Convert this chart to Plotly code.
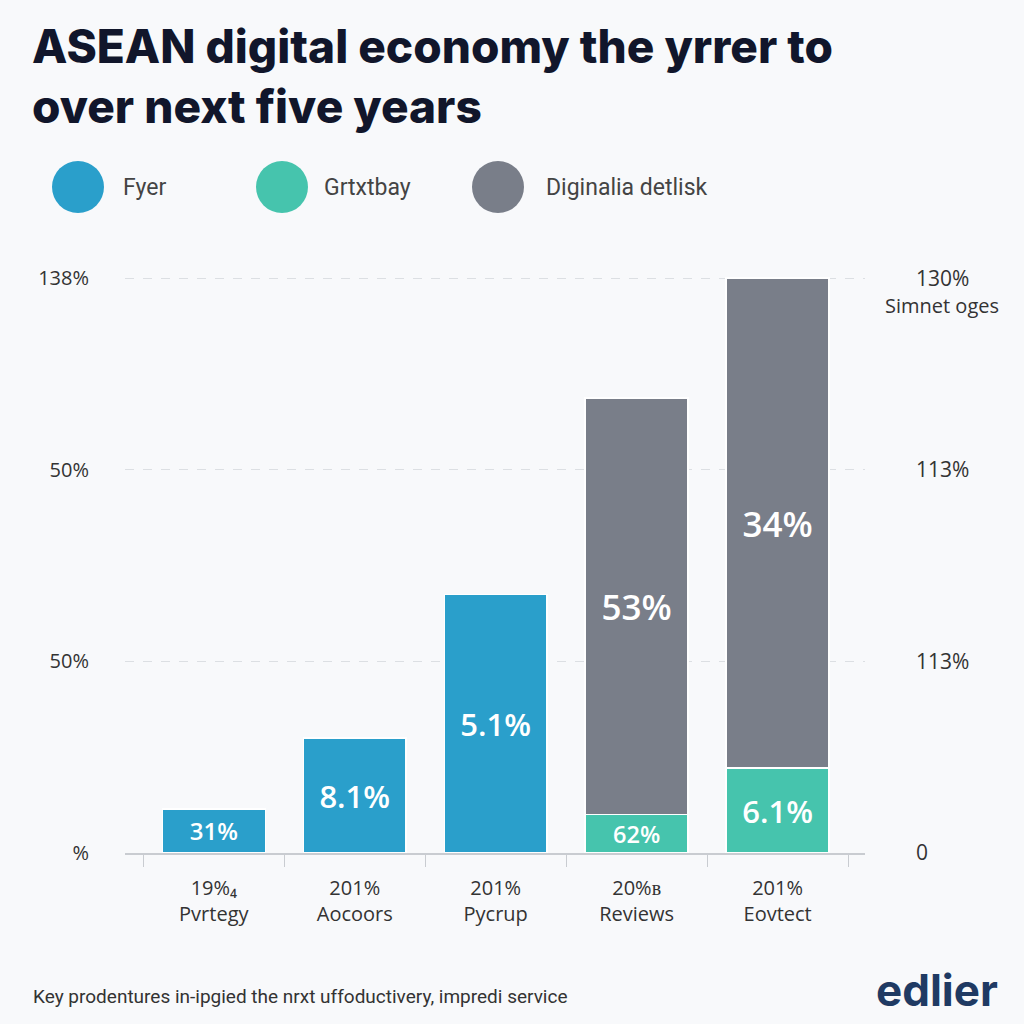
import plotly.graph_objects as go

# ---------------- data ----------------
categories = ["19%\u2084<br>Pvrtegy", "201%<br>Aocoors", "201%<br>Pycrup", "20%\u0299<br>Reviews", "201%<br>Eovtect"]
series_names = ["Fyer", "Grtxtbay", "Diginalia detlisk"]
fyer_values = [10.6, 27.6, 62.0, None, None]
grtxtbay_values = [None, None, None, 9.2, 20.4]
diginalia_values = [None, None, None, 100.0, 117.6]
fyer_labels = ["31%", "8.1%", "5.1%", "", ""]
grtxtbay_labels = ["", "", "", "62%", "6.1%"]
diginalia_labels = ["", "", "", "53%", "34%"]
left_tick_vals = [0, 46, 92, 138]
left_tick_text = ["%", "50%", "50%", "138%"]
right_tick_text = ["0", "113%", "113%", "130%"]

title_text = "ASEAN digital economy the yrrer to<br>over next five years"
right_note = "Simnet oges"
footnote = "Key prodentures in-ipgied the nrxt uffoductivery, impredi service"
logo = "edlier"

# ---------------- style ----------------
BLUE = "#2a9fcb"
GREEN = "#46c4ad"
GRAY = "#797e89"
BG = "#f8f9fb"

X0, X1 = 125, 865   # plot area pixels
Y0, Y1 = 249, 853


def px(x):
    return (x - X0) / (X1 - X0)


def py(y):
    return (Y1 - y) / (Y1 - Y0)


fig = go.Figure()
common = dict(textposition="inside", insidetextanchor="middle", textangle=0,
              marker_line_color="white", marker_line_width=1.5, width=0.73,
              hoverinfo="skip", cliponaxis=False)
fig.add_trace(go.Bar(x=categories, y=fyer_values, name=series_names[0], marker_color=BLUE,
                     text=fyer_labels,
                     textfont=dict(color="white", family="Open Sans", weight=600, size=[24, 31, 31, 24, 24]),
                     **common))
fig.add_trace(go.Bar(x=categories, y=grtxtbay_values, name=series_names[1], marker_color=GREEN,
                     text=grtxtbay_labels,
                     textfont=dict(color="white", family="Open Sans", weight=600, size=[24, 24, 24, 24, 31]),
                     **common))
fig.add_trace(go.Bar(x=categories, y=diginalia_values, name=series_names[2], marker_color=GRAY,
                     text=diginalia_labels,
                     textfont=dict(color="white", family="Open Sans", weight=600, size=[35, 35, 35, 35, 35]),
                     **common))
# invisible helper on the right axis so it is drawn
fig.add_trace(go.Scatter(x=[categories[0]], y=[0], yaxis="y2", mode="markers",
                         marker=dict(opacity=0), showlegend=False, hoverinfo="skip"))

fig.update_layout(
    width=1024, height=1024,
    margin=dict(l=X0, r=1024 - X1, t=Y0, b=1024 - Y1, pad=0),
    paper_bgcolor=BG, plot_bgcolor=BG,
    barmode="stack", showlegend=False,
    font=dict(family="Open Sans", color="#333333"),
    xaxis=dict(type="category", range=[-0.63, 4.62], showline=True, linecolor="#c9ccd1", linewidth=1.5,
               ticks="outside", tickson="boundaries", ticklen=12, tickcolor="#c9ccd1", tickwidth=1.2,
               ticklabelstandoff=16,
               tickfont=dict(size=20, color="#333333", family="Open Sans"), showgrid=False,
               fixedrange=True),
    yaxis=dict(range=[0, 145], tickvals=left_tick_vals, ticktext=left_tick_text, showgrid=True,
               gridcolor="#dcdfe3", griddash="dash", gridwidth=1, zeroline=False, showline=False,
               ticks="", ticklabelstandoff=35, tickfont=dict(size=20, color="#333333")),
    yaxis2=dict(range=[0, 145], overlaying="y", side="right", tickvals=left_tick_vals,
                ticktext=right_tick_text, showgrid=False, zeroline=False, showline=False, ticks="",
                ticklabelstandoff=50, tickfont=dict(size=21, color="#333333")),
)

# title
fig.add_annotation(text=title_text, xref="paper", yref="paper", x=px(30), y=py(16),
                   xanchor="left", yanchor="top", align="left", showarrow=False,
                   font=dict(family="Inter", size=46, weight=800, color="#11162b"))

# legend (big circles)
legend_colors = [BLUE, GREEN, GRAY]
legend_cx = [78, 282, 498]
legend_tx = [121, 322, 544]
r = 26
for name, col, cx, tx in zip(series_names, legend_colors, legend_cx, legend_tx):
    fig.add_shape(type="circle", xref="paper", yref="paper",
                  x0=px(cx - r), x1=px(cx + r), y0=py(187 + r), y1=py(187 - r),
                  fillcolor=col, line=dict(width=0))
    fig.add_annotation(text=name, xref="paper", yref="paper", x=px(tx), y=py(187),
                       xanchor="left", yanchor="middle", showarrow=False,
                       font=dict(family="Roboto", size=23, color="#444444"))

fig.add_annotation(text=right_note, xref="paper", yref="paper", x=px(942), y=py(305),
                   xanchor="center", yanchor="middle", showarrow=False,
                   font=dict(family="Open Sans", size=20, color="#333333"))
fig.add_annotation(text=footnote, xref="paper", yref="paper", x=px(31), y=py(997),
                   xanchor="left", yanchor="middle", showarrow=False,
                   font=dict(family="Roboto", size=19, color="#333333"))
fig.add_annotation(text=logo, xref="paper", yref="paper", x=px(1000), y=py(990),
                   xanchor="right", yanchor="middle", showarrow=False,
                   font=dict(family="Inter", size=44, weight=700, color="#1f3a63"))

fig.write_html("out.html")
